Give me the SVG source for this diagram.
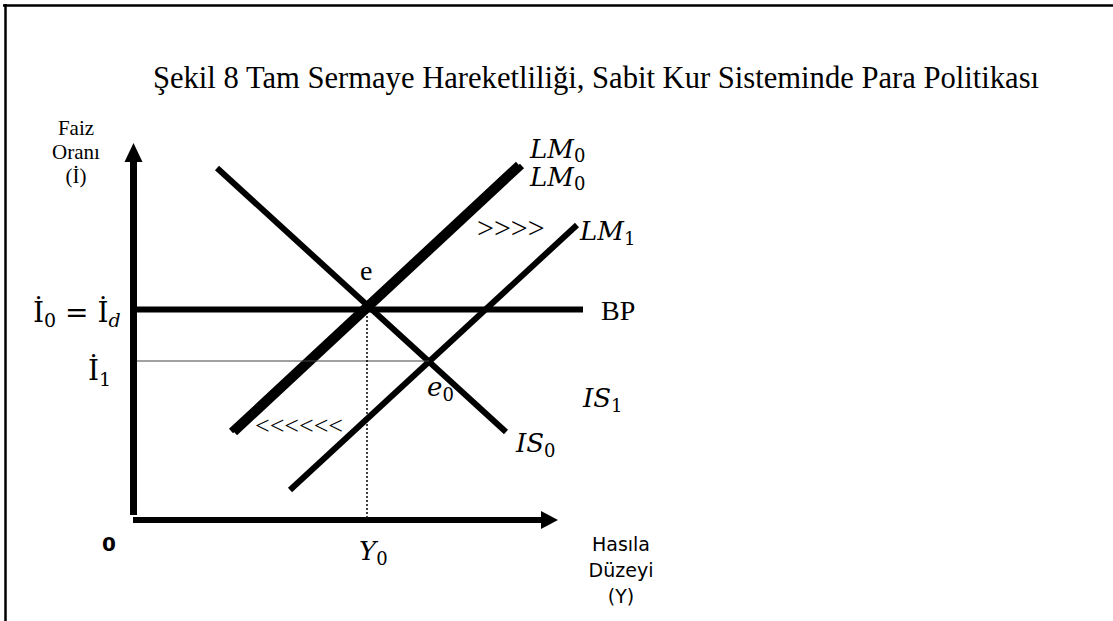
<svg xmlns="http://www.w3.org/2000/svg" width="1113" height="621" viewBox="0 0 1113 621">
<style>
.ln{stroke:#000;stroke-width:6;fill:none}
.ttl{font-family:"Liberation Serif",serif;fill:#000}
.m{font-family:"DejaVu Serif",serif;font-style:italic;fill:#000}
.mu{font-family:"DejaVu Serif",serif;font-style:normal;fill:#000}
.sans{font-family:"DejaVu Sans",sans-serif;fill:#000}
</style>
<rect width="1113" height="621" fill="#fff"/>
<g id="frame">
<line x1="3" y1="5.5" x2="1113" y2="5.5" stroke="#000" stroke-width="2.5"/>
<line x1="5.5" y1="4" x2="5.5" y2="621" stroke="#000" stroke-width="2.5"/>
</g>
<g id="title"><text class="ttl" x="596" y="88" font-size="30.6" text-anchor="middle">Şekil 8 Tam Sermaye Hareketliliği, Sabit Kur Sisteminde Para Politikası</text></g>
<g id="y-axis">
<line x1="133.5" y1="515" x2="133.5" y2="158" stroke="#000" stroke-width="7"/>
<polygon points="133.5,143 124.5,162 142.5,162" fill="#000"/>
<text class="ttl" x="76" y="135" font-size="21" text-anchor="middle">Faiz</text>
<text class="ttl" x="76" y="159" font-size="21" text-anchor="middle">Oranı</text>
<text class="ttl" x="76" y="183" font-size="21" text-anchor="middle">(İ)</text>
</g>
<g id="x-axis">
<line x1="133" y1="520" x2="544" y2="520" stroke="#000" stroke-width="6"/>
<polygon points="558,520 541,511 541,529" fill="#000"/>
<text class="sans" x="109" y="551" font-size="20" font-weight="bold" text-anchor="middle">0</text>
<text class="sans" x="621" y="551" font-size="19" text-anchor="middle">Hasıla</text>
<text class="sans" x="621" y="577" font-size="19" text-anchor="middle">Düzeyi</text>
<text class="sans" x="621" y="603" font-size="19" text-anchor="middle">(Y)</text>
</g>
<g id="connectors">
<line id="BP" class="ln" x1="137" y1="309.5" x2="583" y2="309.5"/>
<line id="IS0" class="ln" x1="217" y1="168" x2="506" y2="432"/>
<line id="LM1" class="ln" x1="290" y1="490" x2="577" y2="225"/>
<line id="LM0a" class="ln" x1="231" y1="431" x2="518" y2="164"/>
<line id="LM0b" class="ln" x1="235" y1="433" x2="522" y2="166"/>
<line id="i1-line" x1="137" y1="361" x2="429" y2="361" stroke="#444" stroke-width="1.2"/>
<line id="y0-line" x1="367" y1="312" x2="367" y2="517" stroke="#000" stroke-width="1.5" stroke-dasharray="2,2"/>
</g>
<g id="labels">
<text class="mu" x="33" y="322" font-size="28">İ<tspan font-size="19" dy="5">0</tspan><tspan dy="-5"> = İ</tspan><tspan class="m" font-size="19" dy="5">d</tspan></text>
<text class="mu" x="88" y="380" font-size="28">İ<tspan font-size="19" dy="6">1</tspan></text>
<text class="ttl" x="360" y="280" font-size="28">e</text>
<text class="m" x="427" y="396" font-size="26">e<tspan class="mu" font-size="18" dy="5">0</tspan></text>
<text class="m" x="516" y="452" font-size="26">IS<tspan class="mu" font-size="18" dy="5">0</tspan></text>
<text class="m" x="583" y="407" font-size="26">IS<tspan class="mu" font-size="18" dy="5">1</tspan></text>
<text class="m" x="530" y="158" font-size="26">LM<tspan class="mu" font-size="18" dy="4">0</tspan></text>
<text class="m" x="530" y="186" font-size="26">LM<tspan class="mu" font-size="18" dy="4">0</tspan></text>
<text class="m" x="580" y="240" font-size="26">LM<tspan class="mu" font-size="18" dy="5">1</tspan></text>
<text class="ttl" x="601" y="320" font-size="28">BP</text>
<text class="ttl" x="477" y="238" font-size="30">&gt;&gt;&gt;&gt;</text>
<text class="ttl" x="255" y="434" font-size="26">&lt;&lt;&lt;&lt;&lt;&lt;</text>
<text class="m" x="359" y="560" font-size="26">Y<tspan class="mu" font-size="18" dy="5">0</tspan></text>
</g>
</svg>
